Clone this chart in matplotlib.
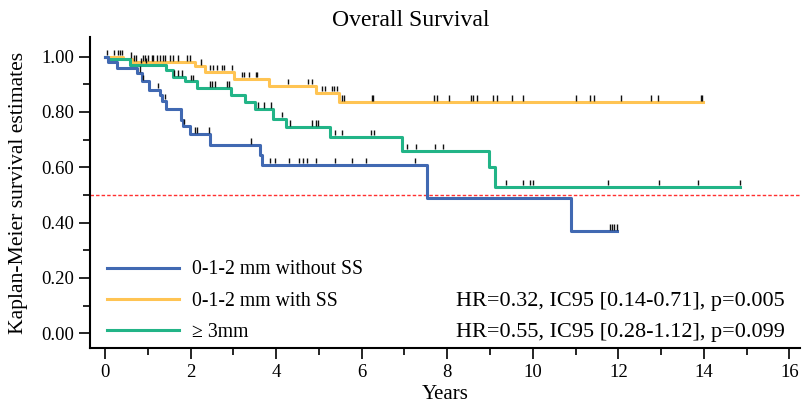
import numpy as np
import matplotlib
matplotlib.use("Agg")
import matplotlib.pyplot as plt
from matplotlib.ticker import MultipleLocator

plt.rcParams['font.family'] = ['Liberation Serif', 'DejaVu Serif']

# --- data (years, survival) ---
groups = ['0-1-2 mm without SS', '0-1-2 mm with SS', '≥ 3mm']
colors = ['#4169B2', '#FFC453', '#22B487']

blue_t = [0, 0.07, 0.28, 0.75, 0.86, 1.03, 1.29, 1.33, 1.43, 1.78, 1.82, 1.99, 2.45, 3.62, 3.67, 7.52, 10.89]
blue_s = [1.0, 0.98, 0.96, 0.94, 0.91, 0.88, 0.86, 0.84, 0.81, 0.77, 0.75, 0.72, 0.68, 0.645, 0.61, 0.49, 0.37]
blue_end = 11.96
blue_cens = [0.82, 0.89, 1.25, 1.40, 1.84, 2.10, 2.15, 2.43, 3.41, 3.86, 3.97, 4.30, 4.53, 4.63,
             4.72, 4.93, 5.37, 5.77, 6.10, 7.24, 11.80, 11.85, 11.90, 11.96]

yellow_t = [0, 0.42, 0.63, 2.10, 2.34, 3.01, 3.83, 4.93, 5.47]
yellow_s = [1.0, 0.99, 0.98, 0.965, 0.945, 0.92, 0.895, 0.87, 0.835]
yellow_end = 13.97
yellow_cens = [0.05, 0.21, 0.30, 0.36, 0.40, 0.61, 0.68, 0.72, 0.89, 0.93, 1.00, 1.10, 1.12, 1.21,
               1.29, 1.36, 1.40, 1.52, 1.59, 1.71, 1.92, 1.99, 2.24, 2.45, 2.52, 2.62, 2.73, 2.78,
               2.98, 3.20, 3.25, 3.36, 3.53, 3.55, 4.28, 4.74, 4.85, 5.07, 5.14, 5.30, 5.35, 5.42,
               5.54, 5.58, 6.24, 6.26, 7.69, 7.76, 8.04, 8.55, 8.60, 8.69, 9.07, 9.16, 9.51, 9.77,
               11.00, 11.33, 11.43, 12.06, 12.76, 12.92, 13.93, 13.95]

green_t = [0, 0.07, 0.58, 1.43, 1.59, 1.87, 2.15, 2.94, 3.27, 3.50, 3.93, 4.23, 5.26, 6.94, 8.97, 9.11]
green_s = [1.0, 0.99, 0.97, 0.95, 0.925, 0.91, 0.885, 0.86, 0.835, 0.81, 0.775, 0.745, 0.71, 0.66, 0.60, 0.53]
green_end = 14.84
green_cens = [0.85, 0.95, 1.62, 1.71, 1.80, 2.00, 2.06, 2.45, 2.50, 2.57, 2.85, 2.90, 3.57, 3.71,
              3.88, 4.14, 4.32, 4.84, 4.93, 4.97, 5.37, 5.54, 6.21, 6.29, 7.06, 7.27, 7.71, 7.90,
              9.37, 9.77, 9.93, 10.00, 11.75, 12.94, 13.86, 14.84]

hr_text = ['HR=0.32, IC95 [0.14-0.71], p=0.005',
           'HR=0.55, IC95 [0.28-1.12], p=0.099']

curves = [(blue_t, blue_s, blue_end, blue_cens),
          (yellow_t, yellow_s, yellow_end, yellow_cens),
          (green_t, green_s, green_end, green_cens)]

fig = plt.figure(figsize=(8.02, 4.04), dpi=100)
ax = fig.add_axes([0.1122, 0.1386, 0.885, 0.770])

ax.axhline(0.5, color='#FF3030', lw=1.0, ls=(0, (2.5, 1.5)), zorder=1)

handles = []
for i in [1, 2, 0]:
    t, s, end, cens = curves[i]
    xs = list(t) + [end]
    ys = list(s) + [s[-1]]
    ln, = ax.step(xs, ys, where='post', color=colors[i], lw=2.2, zorder=3, label=groups[i])
    handles.append((i, ln))
    # censor marks, sitting just above the curve
    c = np.array(cens)
    lev = np.array(s)[np.searchsorted(t, c, side='right') - 1]
    ax.vlines(c, lev + 0.005, lev + 0.025, color='#111111', lw=1.0, zorder=4)

handles = [h for _, h in sorted(handles, key=lambda p: p[0])]
ax.legend(handles=handles, loc='lower left', bbox_to_anchor=(0.01, -0.012), frameon=False,
          fontsize=14.2, handlelength=3.65, handletextpad=0.65, labelspacing=0.62,
          borderaxespad=0.1)

ax.text(0.979, 0.148, hr_text[0], transform=ax.transAxes, ha='right', va='center', fontsize=16)
ax.text(0.979, 0.051, hr_text[1], transform=ax.transAxes, ha='right', va='center', fontsize=16)

ax.set_xlim(-0.35, 16.24)
ax.set_ylim(-0.053, 1.071)
ax.xaxis.set_major_locator(MultipleLocator(2))
ax.xaxis.set_minor_locator(MultipleLocator(1))
ax.yaxis.set_major_locator(MultipleLocator(0.2))
ax.yaxis.set_minor_locator(MultipleLocator(0.1))
ax.yaxis.set_major_formatter(lambda v, p: f'{v:.2f}')

for sp in ['top', 'right']:
    ax.spines[sp].set_visible(False)
for sp in ['left', 'bottom']:
    ax.spines[sp].set_linewidth(1.5)
ax.tick_params(which='major', length=8, width=1.2, labelsize=13.5, direction='out')
ax.tick_params(which='minor', length=5, width=1.2, direction='out')

ax.set_xlabel('Years', fontsize=15)
ax.set_ylabel('Kaplan-Meier survival estimates', fontsize=15.6)
ax.xaxis.set_label_coords(0.5, -0.118)
ax.yaxis.set_label_coords(-0.087, 0.50)

fig.text(0.512, 0.95, 'Overall Survival', ha='center', va='center', fontsize=17)

fig.savefig('out.png', dpi=100)
